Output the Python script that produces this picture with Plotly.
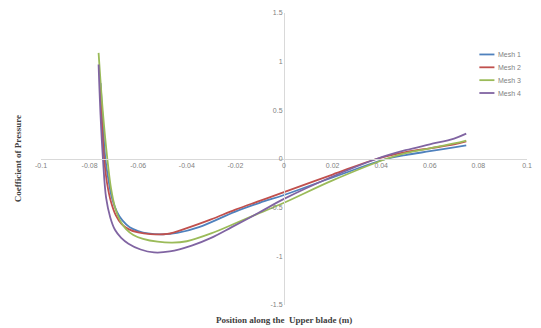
import plotly.graph_objects as go

# Mesh 1 (blue)
x_mesh1 = [-0.0755, -0.0745, -0.0735, -0.0722, -0.0708, -0.0688, -0.0665, -0.0635, -0.060, -0.056, -0.050, -0.044, -0.035, -0.020, -0.010, 0.0, 0.020, 0.042, 0.050, 0.060, 0.070, 0.075]
y_mesh1 = [0.78, 0.35, 0.0, -0.22, -0.40, -0.54, -0.63, -0.70, -0.74, -0.765, -0.775, -0.76, -0.70, -0.54, -0.45, -0.37, -0.19, 0.0, 0.04, 0.08, 0.12, 0.14]

# Mesh 2 (red)
x_mesh2 = [-0.0757, -0.0749, -0.0740, -0.0728, -0.0712, -0.0692, -0.0668, -0.0640, -0.060, -0.055, -0.048, -0.040, -0.030, -0.020, -0.010, 0.0, 0.020, 0.038, 0.050, 0.060, 0.070, 0.075]
y_mesh2 = [0.80, 0.35, 0.0, -0.25, -0.44, -0.58, -0.67, -0.72, -0.755, -0.772, -0.77, -0.71, -0.62, -0.52, -0.43, -0.34, -0.16, 0.0, 0.07, 0.11, 0.15, 0.18]

# Mesh 3 (green)
x_mesh3 = [-0.0763, -0.0746, -0.0727, -0.0712, -0.0695, -0.0675, -0.0650, -0.062, -0.058, -0.052, -0.046, -0.040, -0.030, -0.020, -0.010, 0.0, 0.020, 0.042, 0.050, 0.060, 0.070, 0.075]
y_mesh3 = [1.09, 0.50, 0.0, -0.30, -0.50, -0.63, -0.72, -0.78, -0.82, -0.85, -0.86, -0.845, -0.765, -0.66, -0.555, -0.45, -0.22, 0.0, 0.06, 0.11, 0.16, 0.19]

# Mesh 4 (purple)
x_mesh4 = [-0.0763, -0.0755, -0.0745, -0.0732, -0.0715, -0.0695, -0.0670, -0.064, -0.059, -0.0535, -0.047, -0.038, -0.030, -0.0215, -0.0106, 0.0, 0.020, 0.038, 0.050, 0.060, 0.070, 0.075]
y_mesh4 = [0.97, 0.45, 0.0, -0.40, -0.60, -0.73, -0.81, -0.87, -0.93, -0.96, -0.95, -0.89, -0.81, -0.70, -0.555, -0.41, -0.18, 0.0, 0.09, 0.15, 0.21, 0.26]

series_names = ["Mesh 1", "Mesh 2", "Mesh 3", "Mesh 4"]
series_x = [x_mesh1, x_mesh2, x_mesh3, x_mesh4]
series_y = [y_mesh1, y_mesh2, y_mesh3, y_mesh4]
series_colors = ["#4F81BD", "#C0504D", "#9BBB59", "#8064A2"]

x_tickvals = [-0.1, -0.08, -0.06, -0.04, -0.02, 0, 0.02, 0.04, 0.06, 0.08, 0.1]
x_ticktext = ["-0.1", "-0.08", "-0.06", "-0.04", "-0.02", "0", "0.02", "0.04", "0.06", "0.08", "0.1"]
y_tickvals = [1.5, 1, 0.5, 0, -0.5, -1, -1.5]
y_ticktext = ["1.5", "1", "0.5", "0", "-0.5", "-1", "-1.5"]

fig = go.Figure()
for name, xs, ys, color in zip(series_names, series_x, series_y, series_colors):
    fig.add_trace(go.Scatter(
        x=xs, y=ys, name=name, mode="lines",
        line=dict(color=color, width=1.8, shape="spline", smoothing=1.0),
    ))

tick_font = dict(family="Liberation Sans, Arial, sans-serif", size=7, color="#7f7f7f")
title_font = dict(family="Liberation Serif, Times New Roman, serif", size=9, color="#404040")

# manual compact legend (paper coordinates)
shapes = []
annotations = []
leg_y0 = 0.858
leg_dy = 0.044
for i, (name, color) in enumerate(zip(series_names, series_colors)):
    yy = leg_y0 - i * leg_dy
    shapes.append(dict(type="line", xref="paper", yref="paper",
                       x0=0.902, x1=0.933, y0=yy, y1=yy,
                       line=dict(color=color, width=1.8)))
    annotations.append(dict(text=name, xref="paper", yref="paper",
                            x=0.937, y=yy, xanchor="left", yanchor="middle",
                            showarrow=False,
                            font=dict(family="Liberation Sans, Arial, sans-serif", size=7, color="#7f7f7f")))

annotations += [
    dict(text="<b>Coefficient of Pressure</b>", xref="paper", yref="paper",
         x=-0.047, y=0.5, textangle=-90, showarrow=False, font=title_font,
         xanchor="center", yanchor="middle"),
    dict(text="<b>Position along the  Upper blade (m)</b>", xref="paper", yref="paper",
         x=0.5, y=-0.05, showarrow=False, font=title_font,
         xanchor="center", yanchor="middle"),
]

fig.update_layout(
    width=541, height=328,
    margin=dict(l=41, r=10, t=9, b=23),
    paper_bgcolor="white", plot_bgcolor="white",
    showlegend=False,
    xaxis=dict(
        range=[-0.1, 0.1], anchor="free", position=0.5,
        showline=True, linecolor="#d9d9d9", linewidth=1,
        showgrid=False, zeroline=False,
        tickvals=x_tickvals, ticktext=x_ticktext, tickfont=tick_font,
        ticks="", ticklen=0,
    ),
    yaxis=dict(
        range=[-1.5, 1.5], anchor="free", position=0.5,
        showline=True, linecolor="#d9d9d9", linewidth=1,
        showgrid=False, zeroline=False,
        tickvals=y_tickvals, ticktext=y_ticktext, tickfont=tick_font,
        ticks="", ticklen=0,
    ),
    shapes=shapes,
    annotations=annotations,
)

fig.write_html("out.html")
